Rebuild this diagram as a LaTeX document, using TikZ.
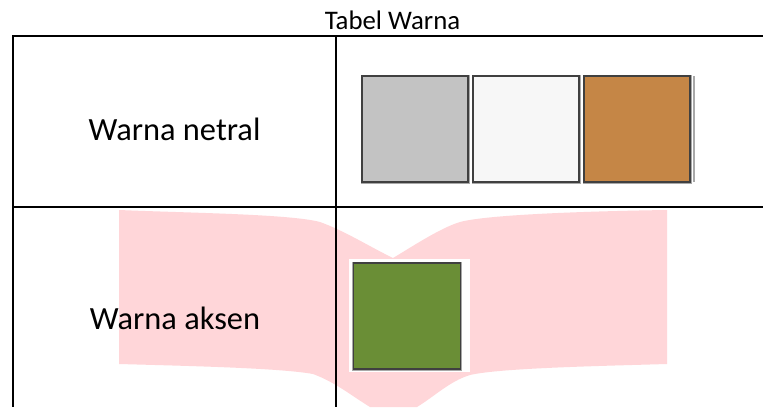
\documentclass[tikz,border=0pt]{standalone}
\usepackage{fontspec}
\setmainfont{Carlito}
\definecolor{pinkmark}{HTML}{FFD6D9}
\definecolor{edgegray}{HTML}{404040}
\definecolor{edgesoft}{HTML}{A8A8A8}
\definecolor{swgray}{HTML}{C3C3C3}
\definecolor{swwhite}{HTML}{F7F7F7}
\definecolor{swbrown}{HTML}{C58646}
\definecolor{swgreen}{HTML}{6A8E36}
\tikzset{
  x=1pt,y=-1pt,
  rule/.style={draw=black,line width=2pt},
  swatch/.style={draw=edgegray,line width=1.5pt,preaction={draw=edgesoft,line width=3pt}},
  cell/.style={font=\fontsize{32.4}{36}\selectfont,text=black,inner sep=0pt},
  caption/.style={font=\fontsize{26.8}{30}\selectfont,text=black,inner sep=0pt}
}
\begin{document}
\begin{tikzpicture}
\useasboundingbox (0,0) rectangle (763,407);
\fill[white] (0,0) rectangle (763,407);
% pink open-book mark
\fill[pinkmark] (119,210)
  .. controls (190,213) and (290,214) .. (320,222)
  .. controls (345,231) and (372,248) .. (393,258)
  .. controls (410,248) and (440,228) .. (460,222)
  .. controls (490,214) and (600,211) .. (667,210)
  -- (667,364)
  .. controls (600,366) and (500,368) .. (470,375)
  .. controls (450,381) and (435,396) .. (417,407)
  -- (370,407)
  .. controls (352,396) and (335,382) .. (313,374)
  .. controls (280,368) and (190,366) .. (119,364)
  -- cycle;
% table rules
\coordinate (tl) at (13,36);
\coordinate (tr) at (763,36);
\coordinate (ml) at (13,207);
\coordinate (mr) at (763,207);
\coordinate (bl) at (13,407);
\coordinate (ct) at (336,36);
\coordinate (cb) at (336,407);
\draw[rule] (tl) -- (tr);
\draw[rule] (ml) -- (mr);
\draw[rule] (tl) -- (bl);
\draw[rule] (ct) -- (cb);
\fill[black] (12,35) rectangle (14,37);
% swatches
\fill[white] (349,259) rectangle (470,372);
\draw[swatch,fill=swgray] (362,76) rectangle (468,182);
\draw[swatch,fill=swwhite] (473,76) rectangle (579,182);
\draw[swatch,fill=swbrown] (584,76) rectangle (690,182);
\draw[draw=edgesoft,line width=2pt] (694,76) -- (694,182);
\draw[swatch,fill=swgreen] (353.5,263) rectangle (460.5,369);
% text
\node[caption] (title) at (392.5,20) {Tabel Warna};
\node[cell] (neutral) at (174.5,129) {Warna netral};
\node[cell] (accent) at (175,318) {Warna aksen};
\end{tikzpicture}
\end{document}
